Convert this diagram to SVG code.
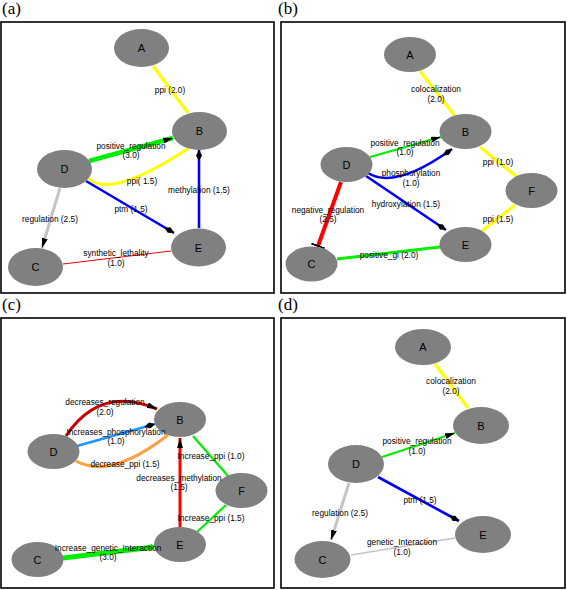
<svg xmlns="http://www.w3.org/2000/svg" width="567" height="590" viewBox="0 0 567 590">
<style>
.frame{fill:none;stroke:#000;stroke-width:1.6}
.plabel{font-family:"Liberation Serif",serif;font-size:17px;fill:#000}
.node ellipse{fill:#808080}
.node text{font-family:"Liberation Sans",Arial,sans-serif;font-size:11px;fill:#000;text-anchor:middle}
.e{fill:none;stroke-linecap:butt}
.lbl{font-family:"Liberation Sans",Arial,sans-serif;font-size:8.3px;fill:#000;text-anchor:middle}
.yel{stroke:#ffff00;stroke-width:3}
.grn{stroke:#00ee00}
.blu{stroke:#0000ff;stroke-width:2.6}
.gry{stroke:#c4c4c4}
</style>
<defs>
<marker id="arr" viewBox="0 0 10 6" refX="10" refY="3" markerWidth="10" markerHeight="6" orient="auto" markerUnits="userSpaceOnUse"><path d="M0,0L10,3L0,6z" fill="#000"/></marker>
<marker id="dia" viewBox="0 0 11 6" refX="11" refY="3" markerWidth="11" markerHeight="6" orient="auto" markerUnits="userSpaceOnUse"><path d="M0,3L5.5,0L11,3L5.5,6z" fill="#000"/></marker>
<marker id="tee" viewBox="0 0 2 14" refX="1" refY="7" markerWidth="2" markerHeight="14" orient="auto" markerUnits="userSpaceOnUse"><rect width="2" height="14" fill="#000"/></marker>
</defs>
<rect width="567" height="590" fill="#fff"/>
<g id="frames">
<rect class="frame" x="1" y="22" width="273" height="271"/>
<rect class="frame" x="281" y="22" width="284" height="271"/>
<rect class="frame" x="1" y="318" width="273" height="270"/>
<rect class="frame" x="281" y="318" width="284" height="270"/>
<text class="plabel" x="2" y="14">(a)</text>
<text class="plabel" x="278" y="14">(b)</text>
<text class="plabel" x="2" y="310">(c)</text>
<text class="plabel" x="278" y="310">(d)</text>
</g>
<g id="connectors">
<!-- (a) -->
<path class="e yel" d="M153 66L188 113"/>
<path class="e grn" stroke-width="4.5" d="M89 161L173 138" marker-end="url(#arr)"/>
<path class="e yel" d="M88 178Q110 200 189 148"/>
<path class="e blu" d="M86 181L174 233" marker-end="url(#dia)"/>
<path class="e blu" d="M199 228L199 150" marker-end="url(#dia)"/>
<path class="e gry" stroke-width="3" d="M60 188L42 248" marker-end="url(#arr)"/>
<path class="e" stroke="#ff0000" stroke-width="1" d="M63 264L171 251"/>
<!-- (b) -->
<path class="e yel" d="M420 71L455 116"/>
<path class="e grn" stroke-width="2.2" d="M370 157L441 137" marker-end="url(#arr)"/>
<path class="e blu" d="M368 173Q395 190 452 149" marker-end="url(#dia)"/>
<path class="e blu" d="M366 176L446 230" marker-end="url(#dia)"/>
<path class="e" stroke="#ff0000" stroke-width="4" d="M341 182L318 246" marker-end="url(#tee)"/>
<path class="e grn" stroke-width="3" d="M337 259L440 247"/>
<path class="e yel" d="M480 147L517 177"/>
<path class="e yel" d="M515 205L482 231"/>
<!-- (c) -->
<path class="e" stroke="#cc0000" stroke-width="3" d="M66 436Q100 385 157 409" marker-end="url(#arr)"/>
<path class="e" stroke="#1e96ff" stroke-width="2.6" d="M77 446L155 424" marker-end="url(#dia)"/>
<path class="e" stroke="#ffa040" stroke-width="3" d="M76 461Q110 480 168 435"/>
<path class="e" stroke="#ff0000" stroke-width="3" d="M180 527L180 438" marker-end="url(#arr)"/>
<path class="e grn" stroke-width="2.2" d="M193 436L228 476"/>
<path class="e grn" stroke-width="2.2" d="M226 505L197 532"/>
<path class="e grn" stroke-width="5" d="M63 558L154 547"/>
<!-- (d) -->
<path class="e yel" d="M435 364L468 408"/>
<path class="e grn" stroke-width="2.2" d="M382 457L455 433" marker-end="url(#arr)"/>
<path class="e blu" d="M378 477L459 521" marker-end="url(#dia)"/>
<path class="e gry" stroke-width="3" d="M349 483L331 540" marker-end="url(#arr)"/>
<path class="e gry" stroke-width="1.5" d="M351 555L455 538"/>
</g>
<g id="a-A" class="node"><ellipse cx="141.5" cy="48" rx="27.5" ry="19"/><text x="141.5" y="52">A</text></g>
<g id="a-B" class="node"><ellipse cx="199.5" cy="131" rx="27.5" ry="19"/><text x="199.5" y="135">B</text></g>
<g id="a-D" class="node"><ellipse cx="64.5" cy="169" rx="27.5" ry="19"/><text x="64.5" y="173">D</text></g>
<g id="a-C" class="node"><ellipse cx="35.5" cy="267" rx="27.5" ry="19"/><text x="35.5" y="271">C</text></g>
<g id="a-E" class="node"><ellipse cx="198.5" cy="247.5" rx="27.5" ry="19"/><text x="198.5" y="251.5">E</text></g>
<g id="b-A" class="node"><ellipse cx="410" cy="54.5" rx="26" ry="17.5"/><text x="410" y="58.5">A</text></g>
<g id="b-B" class="node"><ellipse cx="465.5" cy="131.5" rx="26" ry="17.5"/><text x="465.5" y="135.5">B</text></g>
<g id="b-D" class="node"><ellipse cx="346.5" cy="164.5" rx="26" ry="17.5"/><text x="346.5" y="168.5">D</text></g>
<g id="b-F" class="node"><ellipse cx="531.5" cy="190.5" rx="26" ry="17.5"/><text x="531.5" y="194.5">F</text></g>
<g id="b-E" class="node"><ellipse cx="465.5" cy="244.5" rx="26" ry="17.5"/><text x="465.5" y="248.5">E</text></g>
<g id="b-C" class="node"><ellipse cx="311.5" cy="264" rx="26" ry="17.5"/><text x="311.5" y="268">C</text></g>
<g id="c-B" class="node"><ellipse cx="180" cy="419.5" rx="26" ry="17.5"/><text x="180" y="423.5">B</text></g>
<g id="c-D" class="node"><ellipse cx="53.5" cy="451.5" rx="26" ry="17.5"/><text x="53.5" y="455.5">D</text></g>
<g id="c-F" class="node"><ellipse cx="241.5" cy="490.5" rx="26" ry="17.5"/><text x="241.5" y="494.5">F</text></g>
<g id="c-E" class="node"><ellipse cx="180" cy="544.5" rx="26" ry="17.5"/><text x="180" y="548.5">E</text></g>
<g id="c-C" class="node"><ellipse cx="37.5" cy="559.5" rx="26" ry="17.5"/><text x="37.5" y="563.5">C</text></g>
<g id="d-A" class="node"><ellipse cx="423" cy="347" rx="28" ry="18"/><text x="423" y="351">A</text></g>
<g id="d-B" class="node"><ellipse cx="481" cy="425.5" rx="28" ry="18.5"/><text x="481" y="429.5">B</text></g>
<g id="d-D" class="node"><ellipse cx="356" cy="464" rx="28" ry="19"/><text x="356" y="468">D</text></g>
<g id="d-E" class="node"><ellipse cx="483" cy="534.5" rx="28" ry="18.5"/><text x="483" y="538.5">E</text></g>
<g id="d-C" class="node"><ellipse cx="322.5" cy="559.5" rx="28" ry="18.5"/><text x="322.5" y="563.5">C</text></g>
<g id="edge-labels" class="lbl">
<text x="170" y="93">ppi (2.0)</text>
<text x="131" y="149">positive_regulation</text>
<text x="131" y="158">(3.0)</text>
<text x="142" y="184">ppi( 1.5)</text>
<text x="131" y="212">ptm (1.5)</text>
<text x="199" y="193">methylation (1.5)</text>
<text x="50" y="222">regulation (2.5)</text>
<text x="116" y="256">synthetic_lethality</text>
<text x="116" y="266">(1.0)</text>
<text x="436" y="92">colocalization</text>
<text x="436" y="102">(2.0)</text>
<text x="405" y="146">positive_regulation</text>
<text x="405" y="155">(1.0)</text>
<text x="411" y="176">phosphorylation</text>
<text x="411" y="186">(1.0)</text>
<text x="406" y="207">hydroxylation (1.5)</text>
<text x="328" y="213">negative_regulation</text>
<text x="328" y="222">(2.5)</text>
<text x="389" y="258">positive_gi (2.0)</text>
<text x="498" y="165">ppi (1.0)</text>
<text x="498" y="222">ppi (1.5)</text>
<text x="105" y="405">decreases_regulation</text>
<text x="105" y="415">(2.0)</text>
<text x="116" y="435">Increases_phosphorylation</text>
<text x="116" y="444">(1.0)</text>
<text x="125" y="467">decrease_ppi (1.5)</text>
<text x="179" y="481">decreases_methylation</text>
<text x="179" y="490">(1.5)</text>
<text x="211" y="459">Increase_ppi (1.0)</text>
<text x="211" y="521">Increase_ppi (1.5)</text>
<text x="108" y="551">Increase_genetic_Interaction</text>
<text x="108" y="560">(3.0)</text>
<text x="451" y="384">colocalization</text>
<text x="451" y="394">(2.0)</text>
<text x="417" y="444">positive_regulation</text>
<text x="417" y="454">(1.0)</text>
<text x="420" y="503">ptm (1.5)</text>
<text x="340" y="516">regulation (2.5)</text>
<text x="402" y="545">genetic_Interaction</text>
<text x="402" y="555">(1.0)</text>
</g>
</svg>
